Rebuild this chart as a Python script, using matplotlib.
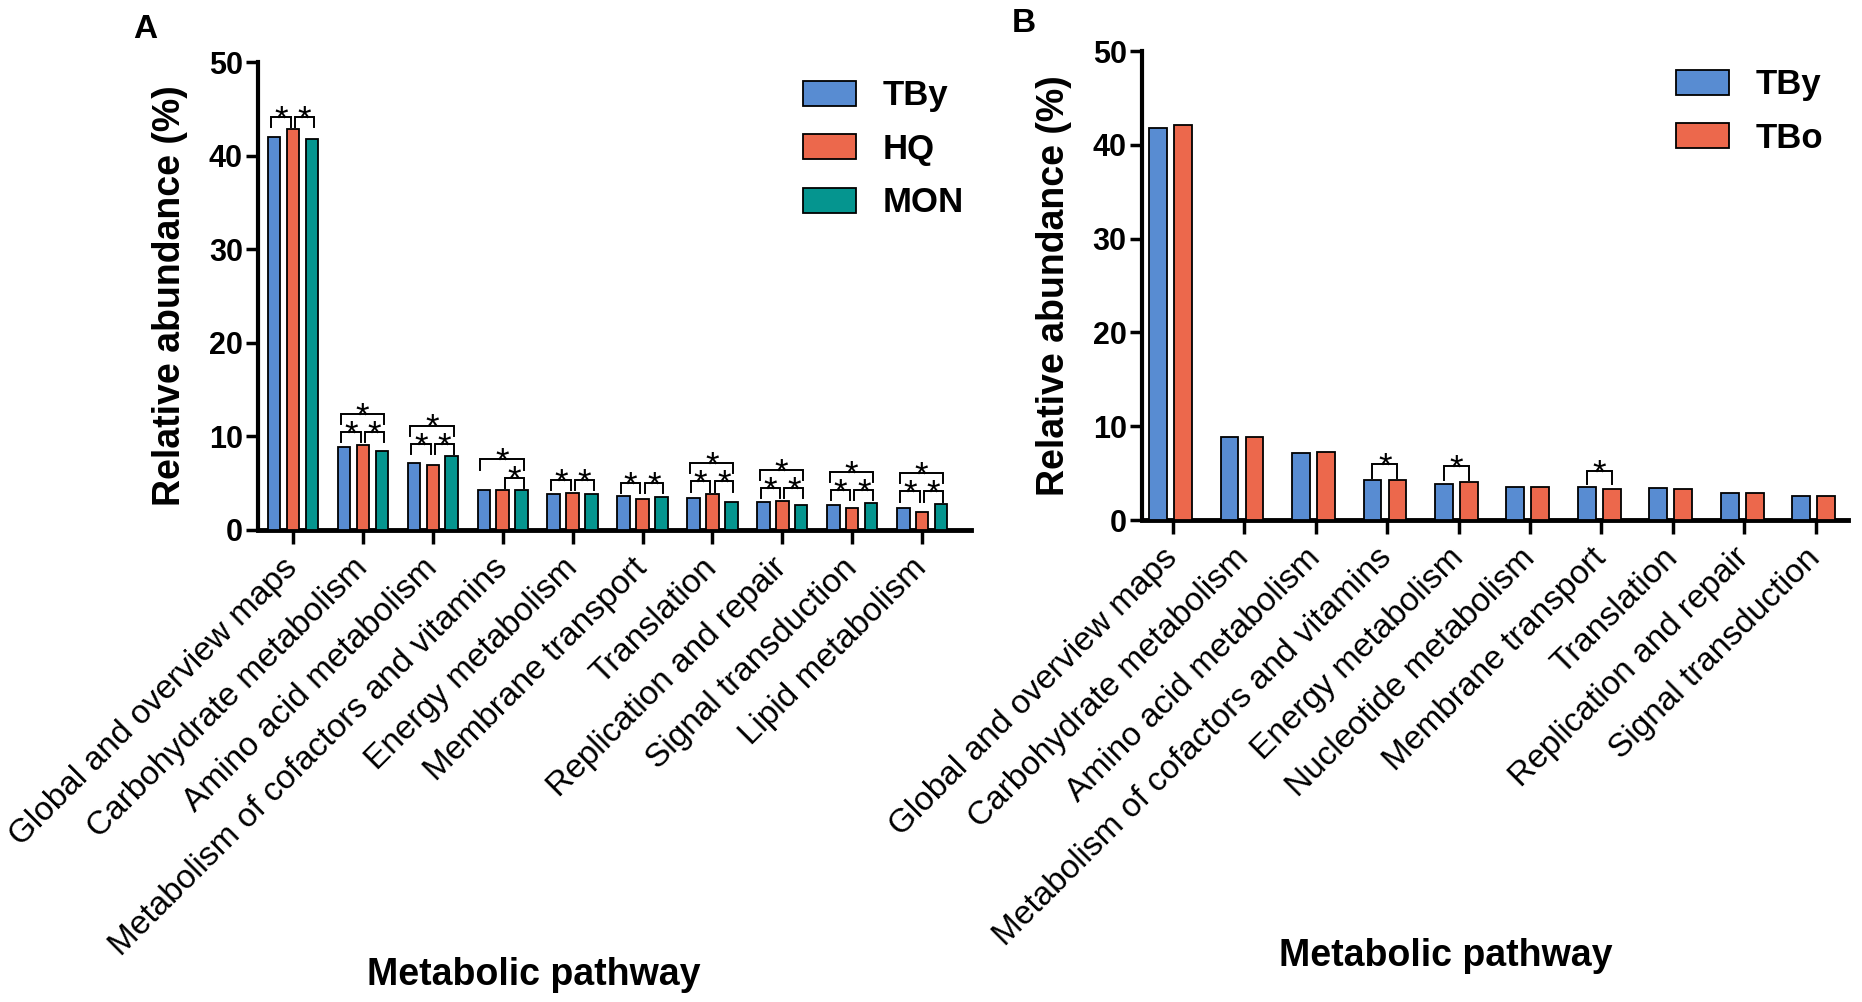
import numpy as np
import matplotlib
matplotlib.use("Agg")
import matplotlib.pyplot as plt

plt.rcParams['font.family'] = ['Liberation Sans', 'DejaVu Sans']

# ---- data, panel A ----
cats_a = ["Global and overview maps", "Carbohydrate metabolism", "Amino acid metabolism",
          "Metabolism of cofactors and vitamins", "Energy metabolism", "Membrane transport",
          "Translation", "Replication and repair", "Signal transduction", "Lipid metabolism"]
groups_a = ["TBy", "HQ", "MON"]
tby_a = [41.95, 8.85, 7.2, 4.25, 3.88, 3.65, 3.45, 3.0, 2.7, 2.38]
hq_a = [42.8, 9.1, 6.9, 4.25, 4.0, 3.35, 3.85, 3.12, 2.38, 1.92]
mon_a = [41.8, 8.45, 7.85, 4.25, 3.88, 3.55, 2.98, 2.67, 2.92, 2.78]
# significant pairs (0=TBy, 1=HQ, 2=MON)
sig_a = [[(0, 1), (1, 2)],
         [(0, 1), (1, 2), (0, 2)],
         [(0, 1), (1, 2), (0, 2)],
         [(1, 2), (0, 2)],
         [(0, 1), (1, 2)],
         [(0, 1), (1, 2)],
         [(0, 1), (1, 2), (0, 2)],
         [(0, 1), (1, 2), (0, 2)],
         [(0, 1), (1, 2), (0, 2)],
         [(0, 1), (1, 2), (0, 2)]]

# ---- data, panel B ----
cats_b = ["Global and overview maps", "Carbohydrate metabolism", "Amino acid metabolism",
          "Metabolism of cofactors and vitamins", "Energy metabolism", "Nucleotide metabolism",
          "Membrane transport", "Translation", "Replication and repair", "Signal transduction"]
groups_b = ["TBy", "TBo"]
tby_b = [41.8, 8.85, 7.17, 4.23, 3.8, 3.55, 3.55, 3.44, 2.91, 2.6]
tbo_b = [42.15, 8.85, 7.28, 4.23, 4.01, 3.55, 3.34, 3.3, 2.84, 2.6]
sig_b = [[], [], [], [(0, 1)], [(0, 1)], [], [(0, 1)], [], [], []]

colors = ['#588cd2', '#ec684c', '#05958f']


def style_axis(ax, cats, xlim):
    ax.set_ylim(0, 50)
    ax.set_xlim(*xlim)
    ax.set_yticks([0, 10, 20, 30, 40, 50])
    ax.set_xticks(np.arange(len(cats)))
    ax.set_xticklabels(cats, rotation=45, ha='right', va='center',
                       rotation_mode='anchor', fontsize=24)
    for lab in ax.get_yticklabels():
        lab.set_fontweight('bold')
        lab.set_fontsize(22)
    ax.spines['top'].set_visible(False)
    ax.spines['right'].set_visible(False)
    ax.spines['left'].set_bounds(0, 50)
    ax.spines['left'].set_linewidth(3)
    ax.spines['bottom'].set_linewidth(3.5)
    ax.tick_params(axis='y', direction='out', length=9, width=2.5, pad=2)
    ax.tick_params(axis='x', direction='out', length=10, width=2.5, pad=14)
    ax.set_ylabel('Relative abundance (%)', fontsize=27, fontweight='bold', labelpad=15)


def bracket(ax, x1, x2, y, leg):
    ax.plot([x1, x1, x2, x2], [y - leg, y, y, y - leg], color='black', lw=1.4,
            solid_joinstyle='miter', clip_on=False)
    ax.annotate('*', xy=((x1 + x2) / 2, y), xytext=(0, -9), textcoords='offset points',
                ha='center', va='baseline', fontsize=25)


fig = plt.figure(figsize=(18.62, 10.02), dpi=100)

# ---- panel A ----
ax1 = fig.add_axes([0.1386, 0.4711, 0.3829, 0.467])
x = np.arange(len(cats_a))
off_a = 0.27
w_a = 0.18
for k, (vals, name) in enumerate(zip([tby_a, hq_a, mon_a], groups_a)):
    ax1.bar(x + (k - 1) * off_a, vals, width=w_a, color=colors[k], edgecolor='black',
            linewidth=1.3, label=name, zorder=3)
style_axis(ax1, cats_a, (-0.5, 9.7))
for i, pairs in enumerate(sig_a):
    vals = [tby_a[i], hq_a[i], mon_a[i]]
    low = max(vals) + 1.35
    for (p, q) in pairs:
        xp = i + (p - 1) * off_a
        xq = i + (q - 1) * off_a
        if q - p == 2:
            bracket(ax1, xp - 0.05, xq + 0.03, low + 1.95, 1.1)
        elif p == 0:
            bracket(ax1, xp - 0.04, xq - 0.03, low, 1.1)
        else:
            bracket(ax1, xp + 0.03, xq + 0.03, low, 1.1)
leg1 = ax1.legend(loc='upper left', bbox_to_anchor=(786 / 1862, 1 - 62 / 1002),
                  bbox_transform=fig.transFigure, frameon=False, borderpad=0,
                  handlelength=1.53, handleheight=0.75, handletextpad=0.75,
                  labelspacing=0.59, prop={'weight': 'bold', 'size': 25})

# ---- panel B ----
ax2 = fig.add_axes([0.6133, 0.481, 0.3792, 0.468])
xb = np.arange(len(cats_b))
off_b = 0.35
w_b = 0.25
for k, (vals, name) in enumerate(zip([tby_b, tbo_b], groups_b)):
    ax2.bar(xb + (k - 0.5) * off_b - 0.03, vals, width=w_b, color=colors[k],
            edgecolor='black', linewidth=1.3, label=name, zorder=3)
style_axis(ax2, cats_b, (-0.43, 9.45))
for i, pairs in enumerate(sig_b):
    for (p, q) in pairs:
        y = max(tby_b[i], tbo_b[i]) + 1.7
        bracket(ax2, i - 0.5 * off_b - 0.03, i + 0.5 * off_b - 0.03, y, 1.4)
leg2 = ax2.legend(loc='upper left', bbox_to_anchor=(1659 / 1862, 1 - 51 / 1002),
                  bbox_transform=fig.transFigure, frameon=False, borderpad=0,
                  handlelength=1.53, handleheight=0.75, handletextpad=0.75,
                  labelspacing=0.59, prop={'weight': 'bold', 'size': 25})

# axis titles and panel letters
fig.text(534 / 1862, 1 - 975 / 1002, 'Metabolic pathway', ha='center', va='center',
         fontsize=27, fontweight='bold')
fig.text(1446 / 1862, 1 - 956 / 1002, 'Metabolic pathway', ha='center', va='center',
         fontsize=27, fontweight='bold')
fig.text(145 / 1862, 1 - 30 / 1002, 'A', ha='center', va='center', fontsize=24, fontweight='bold')
fig.text(1024 / 1862, 1 - 24 / 1002, 'B', ha='center', va='center', fontsize=24, fontweight='bold')

fig.savefig('out.png', dpi=100, facecolor='white')
